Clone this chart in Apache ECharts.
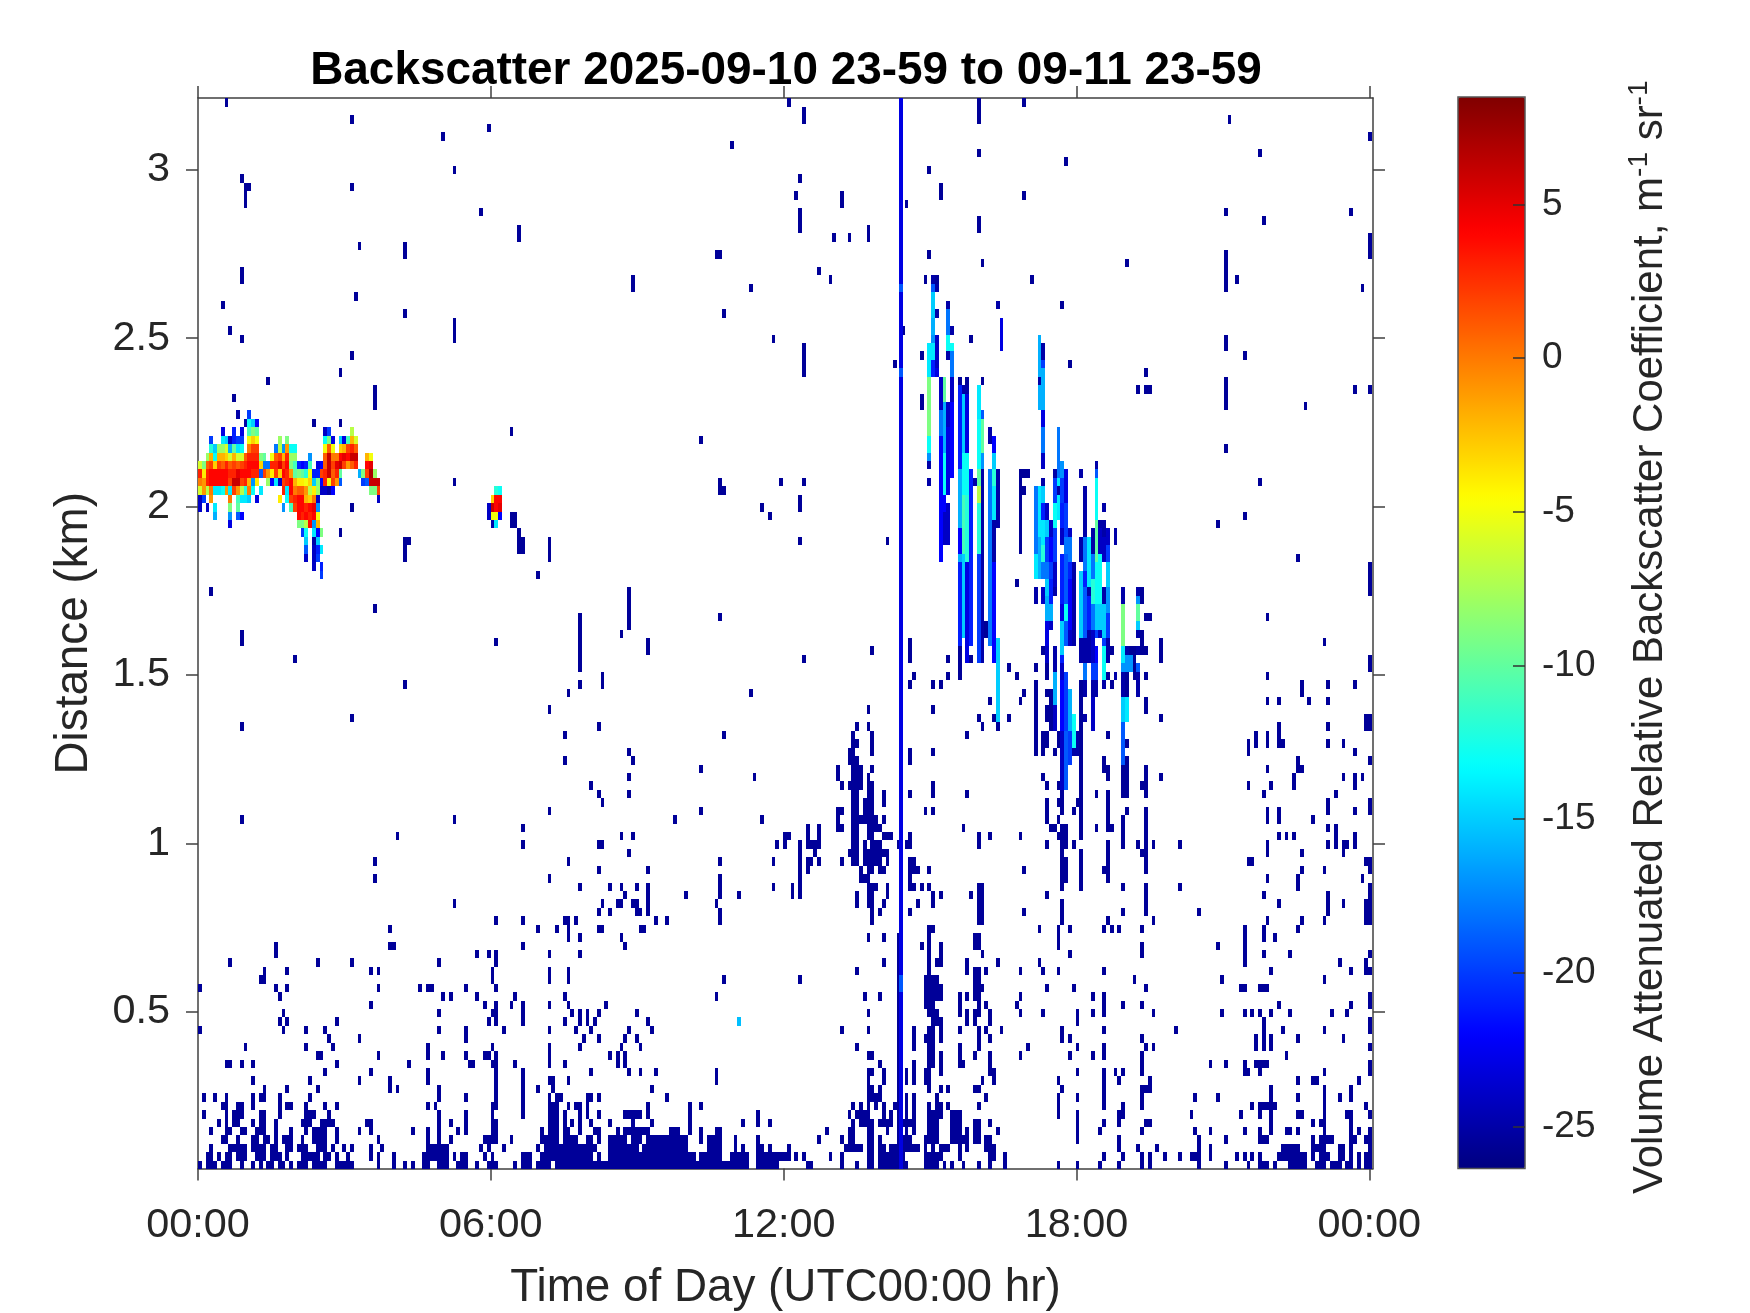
<!DOCTYPE html>
<html><head><meta charset="utf-8">
<style>html,body{margin:0;padding:0;background:#fff}#c{width:1750px;height:1313px}</style>
<script src="https://cdn.jsdelivr.net/npm/echarts@6/dist/echarts.min.js"></script>
</head><body><div id="c"></div>
<script>
const titleText = 'Backscatter 2025-09-10 23-59 to 09-11 23-59';
const xName = 'Time of Day (UTC00:00 hr)';
const yName = 'Distance (km)';
const hourTicks = [0, 6, 12, 18, 24];
const hourLabels = ['00:00', '06:00', '12:00', '18:00', '00:00'];
const kmTicks = [0.5, 1, 1.5, 2, 2.5, 3];
const dbTicks = [-25, -20, -15, -10, -5, 0, 5];
const hoursPerBin = 0.07784;
const kmPerGate = 0.02503;
const firstGateKm = 0.0454;
const weakDb = -25.5;

// near-ground returns: index = range gate, entries = time bin or [first, last] time bin
const nearRows = [
 [0,[2,4],[6,8],11,14,16,[18,19],[21,22],24,[26,28],[30,33],[36,40],47,51,54,56,[59,60],[63,65],68,[69,70],73,[76,78],83,[85,87],[89,92],[94,109],[110,144],[147,152],[160,161],169,173,[176,177],[179,181],[182,186],[191,194],196,198,201,205,208,212,226,231,237,242,248,250,263,270,276,[279,281],283,[287,291],[294,296],[298,300],[302,303],305,[307,308]],
 [[2,3],5,[7,8],[10,12],[15,17],[19,21],23,[27,28],[29,31],[33,34],36,39,45,47,51,[59,60],[61,65],67,[69,70],75,77,[85,87],90,[91,103],105,[108,121],[122,130],[132,137],[140,144],[147,152],[153,155],157,159,166,169,[176,177],[179,181],[182,185],[191,195],200,[208,209],212,238,243,248,250,254,258,[261,263],266,273,275,277,279,[284,291],293,[295,297],[300,301],303,305,[307,308]],
 [3,[8,12],14,[15,17],[19,20],[23,24],[26,28],[31,33],35,38,40,45,48,[60,65],74,76,80,89,[91,99],[100,103],104,[108,115],[117,128],[134,137],141,143,[147,148],150,155,[170,171],[172,174],[176,177],179,180,[182,185],[186,189],191,193,[195,197],200,202,207,[208,209],242,247,252,263,266,[285,289],293,[294,296],[300,301],303,308],
 [[6,7],10,[14,15],[17,18],20,[22,24],27,[30,33],36,47,60,63,66,[75,78],82,[90,91],[92,94],[96,99],[102,103],105,[108,109],[110,112],[114,116],[118,128],132,[134,137],141,147,163,169,171,172,[176,177],179,[184,187],191,[192,194],[198,200],[201,202],[204,205],[207,208],231,242,263,270,279,[280,281],293,[295,298],[303,304],[307,308]],
 [3,[7,8],[11,12],[15,17],20,24,28,[30,33],36,42,45,56,60,63,68,70,[77,78],90,[92,94],[96,97],100,[104,105],110,[112,115],[116,118],[124,126],129,132,[136,137],165,171,172,[176,177],181,184,186,188,[192,194],[198,200],202,[204,205],210,231,237,248,262,266,275,279,282,[286,287],289,296,303,305,308],
 [5,7,[9,10],14,[16,17],20,[27,29],[32,35],[44,45],63,66,70,[77,78],[92,94],96,98,100,103,108,114,119,129,143,147,150,172,[174,177],[179,181],182,[184,188],[192,194],[198,200],[204,205],208,231,238,242,[249,250],282,293,[295,296],303],
 [1,7,[9,11],[16,17],21,[28,30],34,63,70,77,85,[92,94],96,100,102,105,[112,114],[115,116],118,129,147,171,[173,175],176,180,182,184,186,188,[192,195],[198,200],226,231,[242,243],261,274,279,282,[289,290],296,[302,303],308],
 [[6,7],[10,11],14,21,[23,24],28,33,36,60,62,[77,78],85,[92,94],97,[99,100],102,118,129,132,172,174,176,178,180,[183,184],186,188,192,[194,195],197,205,226,238,243,248,277,[279,282],283,296,307],
 [1,4,7,14,[16,17],21,29,63,70,78,85,92,[94,95],103,102,105,123,[176,178],179,184,186,188,194,207,226,231,238,248,262,268,282,289,296,300,303],
 [17,23,31,50,52,63,78,85,89,93,119,[176,177],179,184,192,195,197,[204,205],227,238,[248,250],282,296,303],
 [14,29,42,50,60,78,85,[92,93],97,136,176,180,184,186,188,[191,192],206,209,226,238,242,250,289,293,294,305],
 [33,45,60,78,85,103,113,116,120,136,[176,177],180,184,186,188,[191,192],195,[208,209],231,238,241,243,248,[275,276],279,296,308],
 [[7,8],11,14,36,55,[71,72],[77,78],83,92,96,110,112,179,184,188,[192,193],195,[200,201],208,248,266,270,275,[278,281],308],
 [[31,32],47,60,64,70,[75,76],78,92,108,110,112,[176,177],184,[192,193],195,200,204,208,216,229,235,238,248,286],
 [12,28,35,60,77,92,100,111,116,173,184,188,[192,193],200,205,218,231,238,249,251,278,280,282,308],
 [34,42,70,101,105,112,115,184,188,[191,193],195,205,208,227,229,248,278,280,282,289,301],
 [0,22,28,33,63,70,80,92,99,103,113,119,169,176,184,188,[192,193],195,200,205,207,211,227,238,257,280,285,296,308],
 [21,23,36,76,78,85,96,100,102,104,118,184,[193,195],202,204,208,231,280,308],
 [22,63,[77,78],85,98,100,102,105,115,176,184,[192,194],200,202,204,205,208,216,222,231,235,238,251,269,275,277,279,282,287,298,302],
 [45,75,78,82,85,92,97,107,184,[191,193],200,205,207,215,238,243,248,284,303,308],
 [21,64,66,73,83,96,136,175,179,184,[191,195],200,202,205,[204,205],216,235,238,308],
 [0,20,23,47,58,[60,61],70,78,184,[191,195],[204,206],223,230,249,[274,275],[279,281]],
 [[16,17],77,92,97,138,158,184,[191,194],[204,205],246,269,296],
 [17,23,45,47,77,92,97,173,184,192,202,[204,205],207,216,222,226,238,282,303,[307,308]],
 [8,31,40,63,78,180,184,192,[194,195],202,210,221,275,300,307],
 [20,73,76,78,92,100,184,192,195,206,229,248,275,280,287,308],
 [20,[50,51],85,112,184,190,192,195,[204,205],226,248,268,275],
 [97,100,111,176,180,184,192,[204,205],226,275,280,283],
 [50,89,94,97,106,117,105,116,192,193,221,226,229,238,240,242,248,275,280,289]
];

// isolated weak returns and thin weak streaks: [time bin, first gate, last gate]
const weakStreaks = [
 [7,126],[40,124],[64,122],[76,123],[67,118],[140,121],[155,126],[159,124,125],[11,117],[12,114,116],[13,116],[40,116],[74,113],[84,110,111],[42,109],[54,108,109],[157,115],[158,117],[158,111,113],[169,114,115],[136,108],[137,108],[167,110],[171,110],[176,110,111],[163,106],[166,105],[11,105,106],[114,104,105],[6,102],[145,104],[138,101],[41,103],[54,101],[8,99],[11,98],[67,98,100],[151,98],[159,94,97],[183,95],[18,93],[37,94],[40,96],[46,90,92],[9,91],[132,86],[159,81],[82,87],[137,80,81],[138,80],[153,81],[158,78,79],[148,78],[150,77],[67,81],[158,74],[181,74],[54,72,74],[92,72,74],[84,73,74],[89,70],[3,68],[46,66],[100,61,65],[113,64,68],[111,63],[118,62],[137,65],[11,62,63],[78,62],[25,60],[54,57],
 [205,124,126],[192,118],[195,115,116],[205,111,112],[205,120],[186,114],[217,126],[217,115],[228,119],[271,124],[279,120],[270,113],[280,112],[303,113],[308,122],[308,108,110],[306,104],[270,104,108],[273,105],[192,108],[244,107],[227,102],[270,97,98],[275,96],[249,94],[247,92],[249,92],[250,92],[270,90,93],[291,90],[304,92],[308,92],[270,85],[279,81],[275,77],[289,72],[308,68,71],[281,65],[296,62],[268,76],
 [30,88],[37,88],[46,90],[82,87],[40,78],[37,75],[67,81],[82,76,77],[83,76,77],[84,75],[85,73,74],[92,74],[92,72],[54,74],[55,74],[54,72],[89,70],[3,68],
 [11,62],[78,62],[100,60,62],[118,61],[25,60],[100,59],[106,57,58],[100,57],[54,57],[97,56],[145,56],[92,54],[40,53],[11,52],[105,52],[96,51],[138,51],[113,49],[114,48],[96,48],[132,47],[113,46],[146,46],[103,45],[105,44],[113,44],[106,43],[92,42],[132,42],[11,41],[67,41],[125,41],[148,41],[85,40],[52,39],[111,39],[114,39],[154,38,39],[85,38],[105,38],[106,38],[152,38],[113,37],[46,36],[97,36],[137,36],[151,36],[105,35],[118,35],[46,34],[92,34],[137,32,34],[100,33],[108,33],[111,33],[115,33],[118,30,33],[151,33],[112,32],[128,32],[142,32],[106,31],[67,31],[110,31],[111,31],[114,31],[115,31],[136,31],[105,30],[108,30],[115,30],[116,30],[137,29,30],[78,29],[85,29],[96,29],[97,29],[99,29],[120,29],[123,29],[97,29],
 [177,61],[159,60],[187,60,62],[197,60],[200,58,62],[203,62],[202,60],[203,60],[205,60],[206,61,62],[213,59],[215,58],[220,59],[188,58],[197,58],[187,57],[193,57],[195,57],[217,56],[220,50,57],[216,55],[208,55],[176,54],[193,54],[205,53],[209,53],[213,53],[206,52],[210,52],[173,52],[176,52],[202,51],
 [172,51],[177,51],[172,50],[173,50],[177,50],[171,49],[172,49],[177,49],[187,49],[193,49],[171,48],[172,48],[173,48],[187,48],[168,47],[172,47],[173,47],[174,47],[177,47],[168,46],[172,46],[173,46],[174,46],[176,46],[169,45],[171,45],[172,45],[173,45],[174,45],[176,45],[177,45],[193,45],[172,44],[173,44],[176,44],[177,44],[180,44],[187,44],[193,44],[202,44],[172,43],[173,43],[175,43],[176,43],[177,43],[180,43],[168,42],[169,42],[172,42],[173,42],[175,42],[176,42],[177,42],[191,42],[193,42],[168,41],[172,41],[173,41],[174,41],[175,41],[176,41],[177,41],[178,41],[180,41],[168,40],[169,40],[172,40],[173,40],[176,40],[177,40],[178,40],[179,40],[201,40],[160,40],[163,40],[155,39],[160,39],[163,39],[172,39],[173,39],[176,39],[177,39],[180,39],[181,39],[182,39],[187,39],[205,39],[208,39],[216,39],[158,38],[160,38],[161,38],[162,38],[163,38],[172,38],[173,38],[175,38],[177,38],[178,38],[179,38],[184,38],[186,38],[187,38],[205,38],[223,38],[230,38],[158,37],[162,37],[171,37],[172,37],[173,37],[175,37],[176,37],[177,37],[178,37],[179,37],[180,37],[181,37],[158,36],[160,36],[161,36],[163,36],[169,36],[172,36],[173,36],[175,36],[176,36],[177,36],[178,36],[179,36],[181,36],[187,36],[188,36],[158,35],[160,35],[174,35],[176,35],[177,35],[179,35],[180,35],[187,35],[188,35],[189,35],[192,35],[217,35],[158,34],[174,34],[175,34],[176,34],[187,34],[156,33],[158,33],[176,33],[177,33],[178,33],[181,33],[187,33],[188,33],[190,33],[192,33],[205,29,33],[206,29,33],[156,32],[158,32],[173,32],[176,32],[177,32],[181,32],[193,32],[195,32],[203,32],[173,31],[176,31],[177,31],[180,31],[189,31],[193,31],[177,30],[179,30],[187,30],[217,30],[177,29],
 [222,46],[223,45],[226,45],[227,45],[228,45],[227,42,44],[226,43],[226,41],[224,40],[225,40],[227,38,40],[228,38,40],[226,39],[227,33,38],[228,34,36],[223,41,43],[223,38],[232,33,37],[223,32],[227,29,31],[217,30],[232,39,53],[230,42],[231,43],[236,44],[239,40,44],[236,40],[240,40],[238,47,48],[239,46,47],[239,51],[239,34,38],[238,35],[239,29],[243,30],[243,33],[249,30,33],[249,35,42],[248,37],[251,38],[247,38],[243,38,39],[243,40,41],[244,42],[243,44,48],[244,44,48],[244,50],[244,48],[249,54,55],[253,53],[249,44,47],[248,45],[253,46],[251,29],[258,38],[258,33],[263,30],
 [296,62],[281,58],[290,56,57],[297,57],[304,57],[281,55],[284,55],[292,55],[297,55],[297,52],[284,50,52],[285,50],[281,50,51],[278,50,51],[276,49,50],[297,50],[301,50],[304,49],[289,48],[289,47],[290,47],[281,47],[288,45,46],[301,46],[304,45,46],[306,46],[276,45],[282,45],[280,44],[299,44],[297,42,43],[304,42],[281,41,42],[284,41,42],[293,41],[297,40],[299,38,40],[284,39],[286,39],[288,39],[304,38,39],[301,38],[302,38],[297,38],[281,37,38],[301,37],[290,37],[276,36],[277,36],[290,35],[296,35],[281,34],[289,33,34],[306,34],[280,32],[297,30,32],[284,31],[301,31],[290,29],[296,29],[281,29],
 [308,59,60],[308,52,53],[307,52,53],[308,48],[308,42,43],[307,36],[308,36],[308,35],[308,32,33],[307,29,31],[308,29,31],[253,60,62],[253,61,62],
 [216,73,82],[215,69],[217,82],[218,82],[217,80],[213,59],[215,58],[217,56],[216,55],[213,53],[220,59],[220,49,56],[222,61],[223,61],[223,58,60],[223,56],[224,56],[224,55],[223,53,54],[224,53,54],[225,53,54],[224,52],[225,52],[222,50,51],[223,50,51],[222,49],[225,49],[226,50,51],[227,50,51],[230,49],[231,49],[232,48,57],[239,51],[238,48],[239,58],[240,61],[240,57],[244,56,58],[245,61],[246,58,61],[248,61],[248,67,68],[248,62,63],[249,61],[249,58],[249,54,55],[250,65],[249,65],[253,53],[247,68],
 [185,99],[183,95],[181,74],[191,105],[194,105],[190,96],[190,90,91],[200,93],[202,93],[206,93],[203,98],[206,107],[210,102],[229,75],[232,82],[229,95],[219,105],[227,102],[249,94],[247,92],[204,81],[226,80],
 [206,63,64],[207,63,64]
];

// stronger cloud columns: [time bin, first gate, last gate, dB]
const cloudStreaks = [
 [184.5,0,126,-23],[184.5,104,104,-19],[184.5,94,94,-19],[184.5,21,22,-19],
 [142,17,17,-15.5],
 [192,94,97,-14],[192,87,93,-9],[192,85,86,-13],[192,84,84,-17],[192,83,83,-25],[192,81,81,-25],
 [193,105,105,-25],[193,104,104,-19],[193,101,103,-15],[193,99,100,-16],[193,98,98,-17],[193,96,97,-14],[193,94,95,-21],
 [194,104,104,-25],[194,101,101,-25],[194,95,98,-24],[194,94,94,-23],
 [195,90,93,-24],[195,87,89,-18],[195,72,86,-22],
 [196,91,93,-10],[196,85,90,-16],[196,82,84,-13],[196,80,81,-13],[196,78,79,-22],[196,74,77,-24],
 [197,102,102,-25],[197,99,101,-18],[197,97,98,-13],[197,96,96,-25],[197,88,90,-24],[197,80,87,-23],[197,74,78,-24],
 [198,99,99,-25],[198,97,97,-13],[198,94,96,-18],[198,91,93,-24],[198,85,90,-22],[198,82,84,-22],
 [200,83,92,-21],[200,76,82,-16],[200,73,75,-22],[200,72,72,-16],[200,62,71,-21],
 [201,92,92,-25],[201,85,91,-15],[201,80,84,-13],[201,73,79,-11],[201,63,72,-15],
 [202,92,92,-25],[202,85,91,-23],[202,80,84,-13],[202,72,79,-12],[202,60,71,-23],
 [203,62,82,-21],[204,81,81,-25],
 [205,89,92,-14],[205,83,88,-13],[205,81,82,-10],[205,79,80,-7],[205,73,78,-12],[205,60,72,-20],
 [206,89,89,-19],[206,85,88,-10],[206,83,84,-17],[206,60,82,-25],
 [208,86,87,-25],[208,62,82,-18],
 [209,85,86,-22],[209,83,84,-15],[209,81,82,-12],[209,77,80,-14],[209,72,76,-25],[209,60,71,-22],
 [210,76,82,-25],[210,53,62,-15],[211,97,100,-23],[210,102,102,-25],
 [220,71,80,-18],[220,70,72,-14],[220,67,68,-25],
 [221,75,80,-14],[221,70,74,-16],[221,90,98,-16],[221,93,93,-25],
 [222,96,97,-25],[222,95,95,-20],[222,90,94,-16],[222,88,89,-23],[222,85,87,-18],[222,83,84,-24],[222,81,81,-25],[222,79,80,-15],[222,77,78,-21],[222,74,76,-14],[222,72,73,-12],[222,70,71,-18],[222,67,68,-24],
 [223,77,78,-24],[223,75,76,-15],[223,72,74,-20],[223,70,71,-18],[223,68,69,-15],[223,65,67,-16],[223,62,64,-23],[223,60,61,-24],
 [224,75,76,-24],[224,72,74,-22],[224,70,71,-20],[224,67,69,-21],[224,65,66,-16],[224,64,64,-24],
 [225,79,82,-20],[225,76,78,-13],[225,72,75,-20],[225,69,71,-24],[225,68,68,-25],[225,58,61,-25],[225,55,58,-16],[225,52,54,-24],[225,82,82,-25],
 [226,82,87,-18],[226,77,81,-14],[226,80,80,-25],
 [227,82,83,-17],[227,79,81,-20],[227,76,78,-21],[227,74,75,-24],[227,67,72,-21],[227,65,66,-23],[227,61,64,-15],[227,60,60,-21],[227,58,59,-24],[227,52,57,-22],[227,45,51,-24],
 [228,79,82,-23],[228,75,78,-20],[228,73,74,-18],[228,67,72,-19],[228,65,66,-13],[228,62,64,-19],[228,52,58,-20],[228,45,51,-19],
 [229,75,75,-24],[229,72,74,-18],[229,70,71,-21],[229,64,69,-22],[229,62,63,-24],[229,52,56,-16],[229,48,51,-20],
 [230,62,71,-25],[230,50,53,-13],[230,49,49,-25],
 [231,49,51,-25],
 [232,82,82,-25],[232,72,74,-25],[232,63,70,-15],[232,60,62,-25],
 [233,75,80,-25],[233,71,74,-18],[233,69,70,-21],[233,63,68,-19],[233,60,62,-25],[233,58,59,-18],[233,56,57,-25],[233,53,53,-25],
 [234,72,74,-14],[234,69,71,-14],[234,68,68,-25],[234,64,67,-21],[234,60,63,-25],
 [235,75,75,-25],[235,73,74,-25],[235,70,72,-18],[235,67,69,-12],[235,64,66,-18],[235,60,63,-24],[235,58,59,-20],[235,56,57,-25],[235,52,55,-24],
 [236,83,83,-25],[236,82,82,-19],[236,77,81,-13],[236,72,76,-10],[236,70,71,-13],[236,67,69,-13],[236,64,66,-15],[236,63,63,-20],[236,60,61,-22],[236,58,59,-20],[236,56,57,-25],
 [237,76,76,-25],[237,73,75,-24],[237,70,72,-13],[237,67,69,-13],[237,64,66,-15],[237,63,63,-24],
 [238,78,78,-25],[238,75,76,-25],[238,72,74,-24],[238,67,68,-25],[238,65,66,-15],[238,63,64,-15],[238,62,62,-20],[238,58,61,-13],[238,57,57,-25],
 [239,74,75,-24],[239,72,73,-20],[239,69,71,-15],[239,66,68,-17],[239,63,65,-20],[239,60,62,-25],
 [241,74,75,-25],[241,58,58,-25],
 [243,67,68,-25],[243,62,66,-9],[243,60,61,-14],[243,59,59,-17],[243,55,58,-25],[243,53,55,-15],[243,48,52,-19],
 [244,61,61,-25],[244,59,60,-17],[244,53,55,-14],[245,59,60,-17],
 [247,68,68,-25],[247,67,67,-17],[247,65,66,-10],[247,64,64,-15],[247,63,63,-25],[247,61,61,-25],[247,59,59,-19],[247,56,58,-25]
];

// strongest layer: [gate, first time bin, dB per successive bin]
const plumeRows = [
 [89,10,[-25,null,null,-20]],
 [88,12,[-25,-13,-15,-22]],
 [87,6,[-23,null,null,-21,null,-23,null,-11,-9,-10]],[87,33,[-24,-20]],[87,40,[-7]],
 [86,3,[-20,null,null,-14,-15,-24,-21,-20,-20,null,-5,-3,-5]],[86,21,[-8,null,-9]],[86,33,[-13,-9,-23,null,-15,-23,-11,-2,-6]],
 [85,3,[-12,-15,-8,-8,-6,-16,-10,-14,-13,null,0,2,2]],[85,20,[-18,-7,-17,-1,-13,-13]],[85,33,[-5,1,-5,null,-3,-2,2,3,1]],
 [84,2,[-8,-2,-13,-2,-2,-3,-6,-2,-6,-6,1,3,3,3,-9,-10,null,-5,1,2,-2,3,-8,-8]],[84,29,[-17]],[84,33,[1,6,0,0,4,5,4,6,6,null,null,-2,-5]],
 [83,0,[-6,-9,1,2,-3,2,1,3,1,2,1,2,3,4,4,4,-3,-18,-18,3,3,5,2,4,-9,-11,-21,-22,-21,-11,null,-23,-22,1,6,2,5,6,2,-1,1,3,null,null,4,5]],
 [82,0,[3,-4,3,4,4,4,4,4,3,3,5,4,4,4,3,3,-19,2,-1,-4,2,-3,4,3,-1,-10,-9,-10,-12,-5,-21,-21,2,3,6,1,3,-10]],[82,42,[-16,-9,2,7,-8]],
 [81,0,[0,-1,3,4,4,4,4,4,2,6,6,2,3,-2,-17,-4,null,null,-8,-22,-14,-24,2,3,4,-2,-4,-4,-5,-3,-15,-9,-22,3,-5,2,-1,-19]],[81,43,[-20,-19,6,6,6]],
 [80,0,[-6,-1,-7,0,-14,-14,-13,-1,-14,2,-1,-7,-12,0,-13,null,-14]],[80,22,[3,-14,4,0,1,1,-1,-7,-4,-8,-24,-24,-25,-22]],[80,45,[-9,-9,2]],
 [79,0,[-24,-20,null,-1]],[79,8,[0,null,-11,-14,-14,-15,null,-23]],[79,21,[-4,null,-13,2,3,4,4,-2,-3,0,-24]],[79,47,[-24]],
 [78,0,[-24,null,-24,null,-14]],[78,8,[-9,null,-10]],[78,22,[-17,null,-11,2,4,4,3,4,5,-17]],
 [77,4,[-16]],[77,8,[-17,null,-19,-22]],[77,26,[4,3,4,3,4,-5]],
 [76,8,[-23]],[76,26,[-9,-9,-7,4,-17,-2]],
 [75,27,[-20,-13,null,-14,-22,-9]],
 [74,28,[-15,null,-25,-15]],
 [73,28,[-19,null,-24,-21,-14]],
 [72,28,[-24,null,-24,-20]],
 [71,30,[-24,null,-21]],
 [70,32,[-20]],
 [80,78,[-12,-13]],[79,77,[-3,4,4]],[78,76,[-24,6,4,5]],[77,76,[-24,-5,-5,-22]],[76,77,[-25,-14]]
];

const jetColors = ['#000080','#0000ff','#0080ff','#00ffff','#80ff80','#ffff00','#ff8000','#ff0000','#800000'];

const cellData = [];
const addCell = (bin, gate, db) => cellData.push([(bin + 0.5) * hoursPerBin, firstGateKm + gate * kmPerGate, db]);
nearRows.forEach((row, gate) => row.forEach(e => {
  const a = Array.isArray(e) ? e[0] : e, b = Array.isArray(e) ? e[1] : e;
  for (let c = a; c <= b; c++) addCell(c, gate, weakDb);
}));
weakStreaks.forEach(s => {
  const last = s.length > 2 ? s[2] : s[1];
  for (let g = s[1]; g <= last; g++) addCell(s[0], g, weakDb);
});
cloudStreaks.forEach(s => { for (let g = s[1]; g <= s[2]; g++) addCell(s[0], g, s[3]); });
plumeRows.forEach(p => p[2].forEach((v, i) => { if (v !== null) addCell(p[1] + i, p[0], v); }));

const ink = '#262626', line = '#404040';
const gridBox = {left: 198, top: 98, width: 1175, height: 1070.5};
const barBox = {left: 1458, top: 97, width: 67, height: 1071.5};
const xRange = [0, 24.075], yRange = [0.035, 3.213], dbRange = [-26.37, 8.5];

const hourLabel = v => hourLabels[hourTicks.indexOf(Math.round(v))] ?? '';
const option = {
  animation: false,
  backgroundColor: '#fff',
  textStyle: {fontFamily: 'Liberation Sans'},
  title: {text: titleText, left: 781, top: 66, textAlign: 'center', textVerticalAlign: 'middle',
    textStyle: {fontFamily: 'Liberation Sans', fontSize: 45.9, fontWeight: 'bold', color: '#000'}},
  grid: [
    Object.assign({show: false, outerBoundsMode: 'none'}, gridBox),
    Object.assign({show: true, outerBoundsMode: 'none', borderColor: '#555', borderWidth: 1.5, backgroundColor: 'transparent', z: 10}, barBox)
  ],
  xAxis: [
    {type: 'value', gridIndex: 0, min: xRange[0], max: xRange[1], position: 'bottom',
     name: xName, nameLocation: 'middle', nameGap: 97, nameTextStyle: {fontSize: 45.8, color: ink},
     axisLine: {show: true, onZero: false, lineStyle: {color: line, width: 1.5}},
     axisTick: {show: true, length: 12, lineStyle: {color: line, width: 1.5}, customValues: hourTicks},
     axisLabel: {show: true, fontSize: 41.4, color: ink, margin: 37, customValues: hourTicks, formatter: hourLabel},
     splitLine: {show: false}},
    {type: 'value', gridIndex: 0, min: xRange[0], max: xRange[1], position: 'top',
     axisLine: {show: true, onZero: false, lineStyle: {color: line, width: 1.5}},
     axisTick: {show: true, length: 12, lineStyle: {color: line, width: 1.5}, customValues: hourTicks},
     axisLabel: {show: false}, splitLine: {show: false}},
    {type: 'value', gridIndex: 1, min: 0, max: 1, show: false}
  ],
  yAxis: [
    {type: 'value', gridIndex: 0, min: yRange[0], max: yRange[1], position: 'left',
     name: yName, nameLocation: 'middle', nameRotate: 90, nameGap: 101, nameTextStyle: {fontSize: 45.8, color: ink},
     axisLine: {show: true, onZero: false, lineStyle: {color: line, width: 1.5}},
     axisTick: {show: true, length: 12, lineStyle: {color: line, width: 1.5}, customValues: kmTicks},
     axisLabel: {show: true, fontSize: 41.4, color: ink, margin: 28, padding: [0, 0, 4, 0], customValues: kmTicks, formatter: v => String(v)},
     splitLine: {show: false}},
    {type: 'value', gridIndex: 0, min: yRange[0], max: yRange[1], position: 'right',
     axisLine: {show: true, onZero: false, lineStyle: {color: line, width: 1.5}},
     axisTick: {show: true, length: 12, lineStyle: {color: line, width: 1.5}, customValues: kmTicks},
     axisLabel: {show: false}, splitLine: {show: false}},
    {type: 'value', gridIndex: 1, min: dbRange[0], max: dbRange[1], position: 'right', z: 10,
     name: '{t|Volume Attenuated Relative Backscatter Coefficient, m}{s|-1}{t| sr}{s|-1}',
     nameLocation: 'middle', nameRotate: 90, nameGap: 100,
     nameTextStyle: {padding: [0, 9, 0, 0], rich: {t: {fontSize: 42, color: ink, fontFamily: 'Liberation Sans'},
                            s: {fontSize: 28, color: ink, fontFamily: 'Liberation Sans', verticalAlign: 'top', lineHeight: 50}}},
     axisLine: {show: false, onZero: false},
     axisTick: {show: true, inside: true, length: 12, lineStyle: {color: '#333', width: 1.5}, customValues: dbTicks},
     axisLabel: {show: true, fontSize: 37, color: ink, margin: 17, padding: [0, 0, 8, 0], customValues: dbTicks, formatter: v => String(v)},
     splitLine: {show: false}}
  ],
  visualMap: {
    type: 'continuous', seriesIndex: 0, dimension: 2, min: dbRange[0], max: dbRange[1],
    left: barBox.left, top: barBox.top, itemWidth: barBox.width, itemHeight: barBox.height,
    calculable: false, realtime: false, text: null, showLabel: false, hoverLink: false, padding: 0,
    textStyle: {fontSize: 0, color: 'transparent'}, formatter: () => '',
    inRange: {color: jetColors}
  },
  series: [{
    type: 'custom', coordinateSystem: 'cartesian2d', xAxisIndex: 0, yAxisIndex: 0, clip: true, silent: true,
    encode: {x: 0, y: 1},
    data: cellData,
    renderItem(params, api) {
      const h = api.value(0), k = api.value(1);
      const p0 = api.coord([h - hoursPerBin / 2, k + kmPerGate / 2]);
      const p1 = api.coord([h + hoursPerBin / 2, k - kmPerGate / 2]);
      const x0 = Math.round(p0[0]), y0 = Math.round(p0[1]), x1 = Math.round(p1[0]), y1 = Math.round(p1[1]);
      return {type: 'rect', shape: {x: x0, y: y0, width: x1 - x0, height: y1 - y0}, style: {fill: api.visual('color')}};
    }
  }]
};
echarts.init(document.getElementById('c'), null, {renderer: 'canvas'}).setOption(option);
</script></body></html>
